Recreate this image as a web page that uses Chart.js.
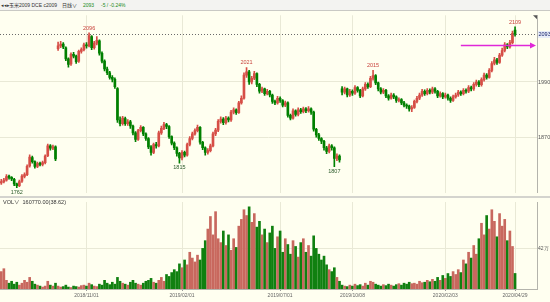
<!DOCTYPE html>
<html>
<head>
<meta charset="utf-8">
<script src="https://cdn.jsdelivr.net/npm/chart.js@4.4.1/dist/chart.umd.min.js"></script>
<style>
  body { margin: 0; width: 550px; height: 302px; overflow: hidden; background: #fffff0; position: relative;
         font-family: "Liberation Sans", "Noto Sans CJK SC", sans-serif; }
  #title { position: absolute; left: 0; top: 0; width: 550px; height: 10px; background: #f3f3f1;
           border-bottom: 1px solid #c9c9c4; font-size: 5px; line-height: 10px; color: #333; white-space: nowrap; }
  #title span { position: absolute; top: 0; }
  .green { color: #1a8a1a; }
  #price { position: absolute; left: 0; top: 11px; }
  #sep { position: absolute; left: 0; top: 196px; width: 550px; height: 2px; background: #d4d4ce; }
  #vol { position: absolute; left: 0; top: 198px; }
  #volHead { position: absolute; left: 3px; top: 199px; font-size: 5.5px; line-height: 7px; color: #333; white-space: nowrap; }
</style>
</head>
<body>
<div id="title">
  <span style="left:1px">◂◂▸</span>
  <span style="left:9px">玉米2009 DCE c2009</span>
  <span style="left:62px">日线∨</span>
  <span style="left:83px" class="green">2093</span>
  <span style="left:101px" class="green">-5 / -0.24%</span>
</div>
<canvas id="price" width="550" height="186"></canvas>
<div id="sep"></div>
<canvas id="vol" width="550" height="104"></canvas>
<div id="volHead">VOL∨ &nbsp;160770.00(38.62)</div>
<script>
// daily OHLC, corn c2009
const opens = [1772,1775,1778,1787,1784,1780,1770,1766,1776,1786,1790,1809,1827,1818,1808,1814,1812,1816,1831,1852,1847,1850,
  2062,2068,2072,2064,2040,2029,2050,2046,2035,2056,2060,2070,2068,2088,2064,2074,2079,2052,2035,2018,2010,2000,1996,
  1976,1908,1900,1911,1900,1904,1895,1880,1866,1885,1892,1878,1868,1850,1838,1855,1852,1880,1890,1898,1894,1872,1858,1848,1836,
  1826,1838,1832,1855,1868,1878,1885,1892,1860,1848,1838,1842,1852,1878,1886,1905,1910,1902,1912,1908,1925,1930,1924,1945,1955,2005,2012,1990,1998,2008,
  1985,1970,1975,1965,1970,1962,1948,1945,1955,1950,1940,1945,1918,1912,1928,1920,1930,1926,1932,1928,1932,1925,1888,1876,1868,1862,1848,1840,1852,1848,1825,1830,
  1975,1968,1975,1962,1970,1966,1978,1972,1960,1975,1985,1980,1998,2004,1988,1975,1968,1972,1960,1955,1962,1958,1950,1952,1945,1940,1938,1932,1935,1948,1955,1962,1970,1965,
  1972,1968,1975,1970,1960,1965,1958,1962,1955,1950,1958,1962,1968,1965,1972,1970,1978,1975,1985,1990,1984,1995,2005,2000,2015,2030,2038,2032,2048,2058,2070,2066,2075,2102];
const highs = [1780,1782,1790,1789,1786,1782,1772,1778,1790,1794,1811,1833,1830,1820,1817,1817,1819,1833,1856,1855,1854,1852,
  2076,2078,2075,2066,2042,2053,2054,2048,2059,2064,2074,2075,2096,2090,2078,2088,2081,2055,2038,2022,2013,2004,1999,
  1978,1915,1916,1914,1909,1907,1897,1883,1888,1896,1894,1880,1870,1853,1858,1860,1884,1895,1903,1901,1896,1874,1861,1850,1838,
  1842,1841,1858,1872,1882,1889,1897,1894,1862,1850,1846,1856,1882,1890,1909,1915,1913,1916,1915,1929,1934,1932,1948,1960,2010,2021,2015,2002,2013,2010,
  1987,1979,1977,1974,1972,1964,1951,1959,1958,1952,1949,1947,1921,1932,1930,1934,1933,1936,1935,1937,1934,1927,1890,1879,1870,1864,1851,1856,1855,1850,1835,1833,
  1980,1979,1977,1974,1973,1982,1980,1974,1979,1989,1988,2002,2015,2006,1990,1978,1976,1974,1963,1966,1965,1960,1956,1954,1948,1943,1940,1939,1951,1959,1966,1974,1973,1976,
  1975,1979,1978,1972,1969,1967,1966,1964,1958,1962,1966,1972,1971,1976,1975,1982,1981,1989,1994,1993,1999,2009,2008,2019,2034,2043,2041,2052,2063,2075,2073,2080,2100,2109];
const lows = [1769,1772,1776,1780,1777,1766,1762,1764,1773,1783,1788,1806,1815,1804,1805,1809,1809,1813,1829,1843,1844,1820,
  2058,2064,2062,2036,2022,2026,2042,2030,2032,2052,2057,2063,2066,2060,2061,2070,2048,2031,2014,2006,1996,1990,1976,
  1903,1895,1897,1896,1896,1890,1876,1861,1864,1882,1874,1864,1846,1832,1835,1847,1850,1877,1887,1889,1868,1854,1844,1830,1815,
  1822,1828,1830,1852,1865,1875,1882,1856,1844,1832,1834,1839,1850,1874,1883,1901,1898,1899,1904,1905,1921,1920,1922,1942,1953,2000,1985,1986,1995,1980,
  1966,1967,1961,1962,1958,1944,1941,1942,1946,1936,1937,1914,1908,1910,1916,1917,1922,1923,1924,1925,1920,1884,1871,1864,1857,1843,1835,1837,1843,1807,1820,1817,
  1962,1964,1958,1959,1961,1963,1968,1956,1958,1972,1976,1978,1994,1984,1971,1964,1965,1956,1951,1953,1954,1946,1947,1941,1936,1933,1927,1926,1933,1945,1952,1959,1961,1962,
  1964,1965,1966,1956,1957,1954,1955,1951,1946,1948,1955,1959,1961,1962,1966,1967,1971,1972,1981,1980,1981,1992,1996,1998,2012,2027,2028,2030,2045,2055,2062,2063,2072,2089];
const closes = [1775,1778,1786,1784,1781,1770,1766,1775,1787,1790,1808,1828,1818,1808,1814,1812,1816,1830,1852,1847,1850,1824,
  2068,2072,2066,2040,2028,2050,2046,2034,2056,2060,2070,2068,2090,2064,2074,2080,2052,2035,2018,2010,2000,1996,1980,
  1908,1900,1912,1900,1904,1895,1880,1866,1885,1892,1878,1868,1850,1838,1855,1852,1880,1890,1898,1894,1872,1858,1848,1836,1826,
  1838,1832,1855,1868,1878,1885,1892,1860,1848,1838,1842,1852,1878,1886,1905,1910,1902,1912,1908,1925,1930,1924,1945,1955,2005,2012,1990,1998,2008,1985,
  1970,1975,1965,1970,1962,1948,1945,1955,1950,1940,1945,1918,1912,1928,1920,1930,1926,1932,1928,1932,1925,1888,1876,1868,1862,1848,1840,1852,1848,1825,1830,1822,
  1968,1975,1962,1970,1966,1978,1972,1960,1975,1985,1980,1998,2004,1988,1975,1968,1972,1960,1955,1962,1958,1950,1952,1945,1940,1938,1932,1935,1948,1955,1962,1970,1965,1972,
  1968,1975,1970,1960,1965,1958,1962,1955,1950,1958,1962,1968,1965,1972,1970,1978,1975,1985,1990,1984,1995,2005,2000,2015,2030,2038,2032,2048,2058,2070,2066,2075,2095,2093];
const volumes = [180000,210000,90000,60000,80000,50000,70000,40000,60000,90000,70000,120000,80000,50000,40000,30000,20000,30000,80000,40000,30000,60000,
  30000,20000,25000,40000,20000,15000,30000,25000,20000,35000,40000,30000,60000,45000,30000,25000,50000,40000,90000,60000,45000,70000,50000,
  120000,80000,60000,50000,40000,70000,90000,60000,50000,40000,60000,80000,90000,110000,70000,60000,90000,120000,80000,150000,130000,170000,200000,180000,260000,
  220000,300000,250000,380000,320000,280000,350000,300000,420000,500000,620000,750000,560000,800000,520000,480000,600000,450000,560000,400000,520000,430000,650000,720000,820000,760000,850000,690000,780000,640000,
  700000,560000,620000,480000,580000,650000,420000,540000,600000,380000,520000,460000,360000,500000,440000,330000,480000,520000,380000,450000,340000,550000,420000,360000,300000,340000,250000,200000,180000,220000,120000,80000,
  40000,30000,25000,40000,30000,50000,35000,45000,30000,60000,40000,80000,70000,50000,40000,30000,45000,35000,50000,40000,30000,45000,55000,40000,60000,50000,70000,55000,60000,50000,80000,65000,70000,90000,
  75000,100000,80000,120000,90000,140000,110000,160000,130000,180000,150000,200000,170000,300000,260000,380000,320000,450000,360000,520000,680000,560000,760000,620000,820000,700000,540000,780000,650000,720000,500000,600000,440000,160770];

// x axis date labels (bar index -> date)
const dateIdx = [33, 70, 108, 136, 172, 199];
const dateLabels = ['2018/11/01', '2019/02/01', '2019/07/01', '2019/10/08', '2020/02/03', '2020/04/29'];
const priceTicks = [1870, 1990];
const volTicks = [420000];
const volTickLabels = ['42万'];
const hiMarks = [34, 95, 144, 199];
const loMarks = [6, 69, 129];
const alertPrice = 2069;
const alertFrom = 178;

const UP = 'rgb(214,78,70)', DOWN = 'rgb(0,128,0)';
const VUP = 'rgb(200,104,94)', VDOWN = 'rgb(16,128,16)';
const FONT = 'Liberation Sans';
const GRID = '#e9e9d6';

const idx = closes.map((c, i) => i);
const isUp = idx.map(i => closes[i] >= opens[i]);

const xCommon = {
  type: 'linear', min: -0.5, max: 207.5, offset: false,
  afterBuildTicks: s => { s.ticks = dateIdx.map(v => ({ value: v })); },
};

const priceMarks = {
  id: 'priceMarks',
  afterDatasetsDraw(chart) {
    const { ctx, chartArea: a, scales: { x, y } } = chart;
    const last = closes[closes.length - 1];
    ctx.save();
    // last price dotted line
    const ly = Math.round(y.getPixelForValue(last)) + 0.5;
    ctx.strokeStyle = '#6a6a6a';
    ctx.lineWidth = 1;
    ctx.setLineDash([1, 2]);
    ctx.beginPath(); ctx.moveTo(a.left, ly); ctx.lineTo(a.right, ly); ctx.stroke();
    ctx.setLineDash([]);
    // alert line with arrow
    const ay = Math.round(y.getPixelForValue(alertPrice)) + 0.5;
    const ax0 = x.getPixelForValue(alertFrom), ax1 = a.right - 1;
    ctx.strokeStyle = '#e028d8'; ctx.fillStyle = '#e028d8'; ctx.lineWidth = 1.5;
    ctx.beginPath(); ctx.moveTo(ax0, ay); ctx.lineTo(ax1 - 4, ay); ctx.stroke();
    ctx.beginPath(); ctx.moveTo(ax1, ay); ctx.lineTo(ax1 - 6, ay - 3); ctx.lineTo(ax1 - 6, ay + 3); ctx.closePath(); ctx.fill();
    // high / low labels
    ctx.font = '5.5px ' + FONT;
    ctx.textAlign = 'center';
    ctx.textBaseline = 'bottom';
    ctx.fillStyle = '#c8423c';
    hiMarks.forEach(i => ctx.fillText(highs[i], x.getPixelForValue(i), y.getPixelForValue(highs[i]) - 2));
    ctx.textBaseline = 'top';
    ctx.fillStyle = '#2a5a2a';
    loMarks.forEach(i => {
      const px = Math.max(a.left + 8, x.getPixelForValue(i));
      ctx.fillText(lows[i], px, y.getPixelForValue(lows[i]) + 2);
    });
    // last price tag on the axis
    ctx.fillStyle = '#e8eef8';
    ctx.fillRect(a.right + 1, ly - 3.5, 12, 7);
    ctx.fillStyle = '#14206a';
    ctx.textAlign = 'left';
    ctx.textBaseline = 'middle';
    ctx.fillText(last, a.right + 1.5, ly);
    // corner marker
    ctx.fillStyle = '#555';
    ctx.beginPath(); ctx.moveTo(a.right - 4, a.top); ctx.lineTo(a.right, a.top); ctx.lineTo(a.right, a.top + 4); ctx.closePath(); ctx.fill();
    ctx.restore();
  }
};

new Chart(document.getElementById('price'), {
  type: 'bar',
  data: {
    datasets: [
      {
        data: idx.map(i => ({ x: i, y: [lows[i], highs[i]] })),
        backgroundColor: idx.map(i => isUp[i] ? UP : DOWN),
        barThickness: 1, grouped: false, order: 2,
      },
      {
        data: idx.map(i => ({ x: i, y: [opens[i], closes[i]] })),
        backgroundColor: idx.map(i => isUp[i] ? UP : DOWN),
        barThickness: 2, grouped: false, minBarLength: 1, order: 1,
      },
    ],
  },
  options: {
    responsive: false,
    animation: false,
    layout: { padding: 0 },
    plugins: { legend: { display: false }, tooltip: { enabled: false } },
    scales: {
      x: {
        ...xCommon,
        afterFit: s => { s.height = 0; },
        ticks: { display: false },
        grid: { color: GRID, drawTicks: false, offset: false },
        border: { display: false },
      },
      y: {
        position: 'right', min: 1751, max: 2134,
        afterFit: s => { s.width = 13; },
        afterBuildTicks: s => { s.ticks = priceTicks.map(v => ({ value: v })); },
        ticks: { font: { family: FONT, size: 5.5 }, color: '#555', padding: 1, callback: v => String(v) },
        grid: { color: GRID, drawTicks: false },
        border: { color: '#b4b4ac' },
      },
    },
  },
  plugins: [priceMarks],
});

new Chart(document.getElementById('vol'), {
  type: 'bar',
  data: {
    datasets: [{
      data: idx.map(i => ({ x: i, y: volumes[i] })),
      backgroundColor: idx.map(i => isUp[i] ? VUP : VDOWN),
      barThickness: 2, grouped: false,
    }],
  },
  options: {
    responsive: false,
    animation: false,
    layout: { padding: { top: 1 } },
    plugins: { legend: { display: false }, tooltip: { enabled: false } },
    scales: {
      x: {
        ...xCommon,
        afterFit: s => { s.height = 13; },
        ticks: {
          font: { family: FONT, size: 5 }, color: '#666', padding: 2, maxRotation: 0, autoSkip: false,
          callback: v => dateLabels[dateIdx.indexOf(v)],
        },
        grid: { color: GRID, tickLength: 2, tickColor: '#999', offset: false },
        border: { color: '#b4b4ac' },
      },
      y: {
        position: 'right', min: 0, max: 900000,
        afterFit: s => { s.width = 13; },
        afterBuildTicks: s => { s.ticks = volTicks.map(v => ({ value: v })); },
        ticks: { font: { family: FONT, size: 5 }, color: '#555', padding: 1,
                 callback: v => volTickLabels[volTicks.indexOf(v)] },
        grid: { color: GRID, drawTicks: false },
        border: { color: '#b4b4ac' },
      },
    },
  },
});
</script>
</body>
</html>
